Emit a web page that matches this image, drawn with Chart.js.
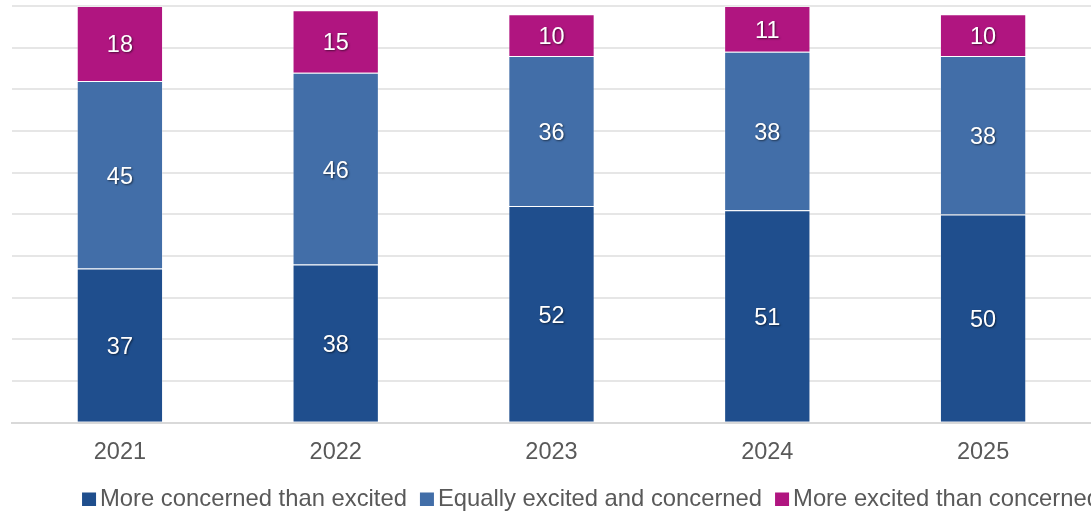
<!DOCTYPE html>
<html>
<head>
<meta charset="utf-8">
<script src="https://cdn.jsdelivr.net/npm/chart.js@4/dist/chart.umd.min.js"></script>
<style>
  html, body { margin: 0; padding: 0; background: #fff; overflow: hidden; }
  #wrap { position: absolute; left: 0; top: 0; width: 1182px; height: 512px; }
</style>
</head>
<body>
<div id="wrap"><canvas id="myChart" width="1182" height="512"></canvas></div>
<script>
const years = ['2021', '2022', '2023', '2024', '2025']
const moreConcerned = [37, 38, 52, 51, 50]
const equallyBoth = [45, 46, 36, 38, 38]
const moreExcited = [18, 15, 10, 11, 10]

const seriesNames = ['More concerned than excited', 'Equally excited and concerned', 'More excited than concerned']
const seriesColors = ['#1f4e8d', '#426ea8', '#b01580']

const fontFamily = '"Liberation Sans", Arial, sans-serif'
const textGray = '#595959'

// white numbers in the middle of every segment
const segmentLabels = {
  id: 'segmentLabels',
  afterDatasetsDraw(chart) {
    const ctx = chart.ctx
    ctx.save()
    ctx.font = `23.5px ${fontFamily}`
    ctx.fillStyle = '#ffffff'
    ctx.textAlign = 'center'
    ctx.textBaseline = 'middle'
    ctx.shadowColor = 'rgba(0, 0, 0, 0.55)'
    ctx.shadowOffsetX = 1
    ctx.shadowOffsetY = 1
    ctx.shadowBlur = 2
    chart.data.datasets.forEach((ds, i) => {
      const meta = chart.getDatasetMeta(i)
      meta.data.forEach((bar, j) => {
        const mid = (bar.y + bar.base) / 2
        ctx.fillText(ds.data[j], bar.x, mid + 2.5)
      })
    })
    ctx.restore()
  }
}

// one-row legend under the axis, tighter than the built-in one
const bottomLegend = {
  id: 'bottomLegend',
  afterDraw(chart) {
    const ctx = chart.ctx
    const box = 14
    const gapText = 4
    const gapItem = 13
    ctx.save()
    ctx.font = `23.8px ${fontFamily}`
    const widths = chart.data.datasets.map(ds => ctx.measureText(ds.label).width)
    let total = widths.reduce((a, b) => a + b, 0) + widths.length * (box + gapText) + (widths.length - 1) * gapItem
    let x = (chart.width - total) / 2
    const baseline = 506
    chart.data.datasets.forEach((ds, i) => {
      ctx.fillStyle = ds.backgroundColor
      ctx.fillRect(x, baseline - box + 0.5, box, box - 0.5)
      x += box + gapText
      ctx.fillStyle = textGray
      ctx.textBaseline = 'alphabetic'
      ctx.fillText(ds.label, x, baseline)
      x += widths[i] + gapItem
    })
    ctx.restore()
  }
}

const makeSet = (i, values) => ({
  label: seriesNames[i],
  data: values,
  backgroundColor: seriesColors[i],
  borderColor: 'rgba(255, 255, 255, 0.3)',
  borderWidth: 1,
  borderSkipped: 'bottom',
  categoryPercentage: 1,
  barPercentage: 0.4
})

const ctx = document.getElementById('myChart')
const myChart = new Chart(ctx, {
  type: 'bar',
  data: {
    labels: years,
    datasets: [
      makeSet(0, moreConcerned),
      makeSet(1, equallyBoth),
      makeSet(2, moreExcited)
    ]
  },
  options: {
    responsive: false,
    animation: false,
    layout: { padding: { top: 6, bottom: 29, left: 0, right: 0 } },
    scales: {
      x: {
        stacked: true,
        grid: { display: false, drawTicks: false },
        border: { display: true, color: '#d9d9d9', width: 2 },
        ticks: { color: textGray, font: { family: fontFamily, size: 23.5 }, padding: 16 }
      },
      y: {
        stacked: true,
        min: 0,
        max: 100,
        ticks: { display: false, stepSize: 10 },
        border: { display: false },
        grid: { color: '#e6e6e6', lineWidth: 2, drawTicks: false },
        afterFit(scale) { scale.width = 12 }
      },
      spare: {
        position: 'right',
        display: true,
        ticks: { display: false },
        grid: { display: false },
        border: { display: false },
        afterFit(scale) { scale.width = 91 }
      }
    },
    plugins: {
      tooltip: { enabled: false },
      legend: { display: false }
    }
  },
  plugins: [segmentLabels, bottomLegend]
})
</script>
</body>
</html>
